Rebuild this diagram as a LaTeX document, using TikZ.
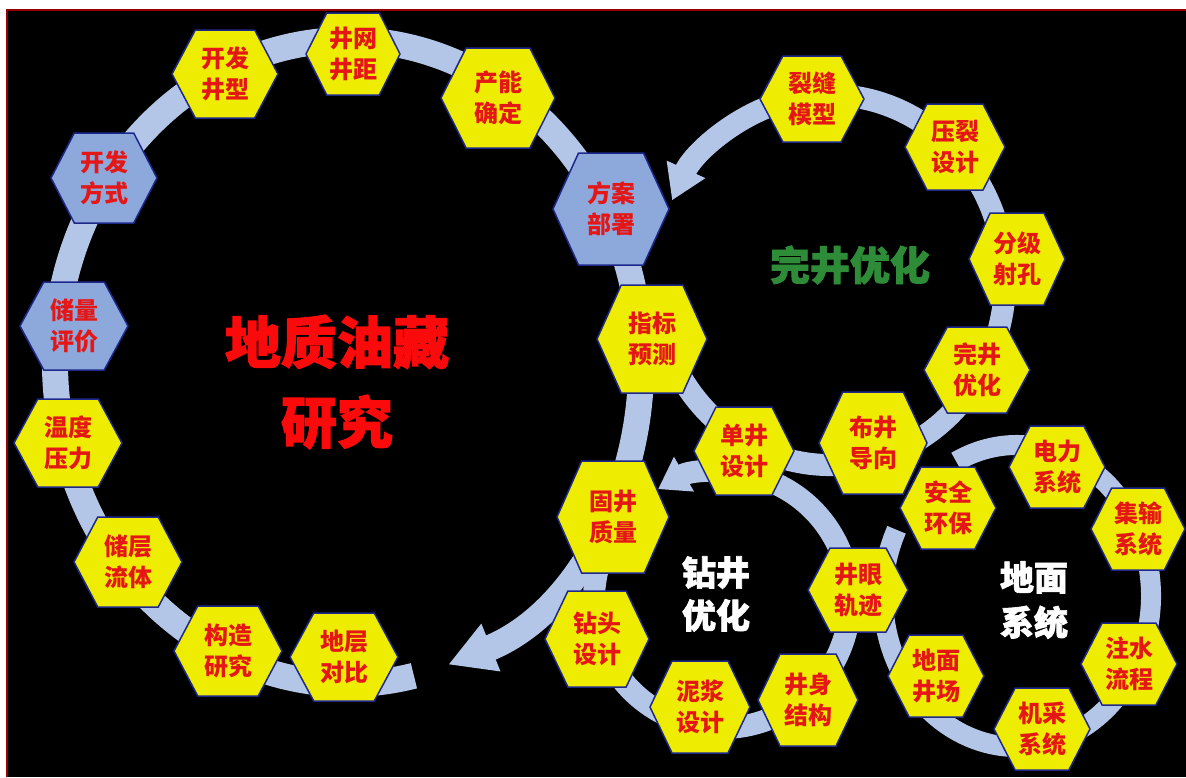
\documentclass[tikz,border=0pt]{standalone}
\usepackage{fontspec}
\newfontfamily\cjk{Noto Sans CJK SC}
\newfontfamily\cjktitle{Noto Sans CJK SC}[FakeBold=2]
\usetikzlibrary{arrows.meta}
\definecolor{ringblue}{RGB}{180,198,231}
\definecolor{hexyellow}{RGB}{238,236,0}
\definecolor{hexblue}{RGB}{141,169,219}
\definecolor{hexedge}{RGB}{30,40,140}
\definecolor{hexred}{RGB}{228,22,22}
\definecolor{titlered}{RGB}{250,10,10}
\definecolor{titlegreen}{RGB}{46,140,56}
\definecolor{framered}{RGB}{150,0,0}
\newcommand{\hexa}[7]{%
  \filldraw[hexborder,fill=#6] (#2-#4,#3) -- (#2-0.56*#4,#3-#5) -- (#2+0.56*#4,#3-#5) -- (#2+#4,#3) -- (#2+0.56*#4,#3+#5) -- (#2-0.56*#4,#3+#5) -- cycle;
  \node[hextext] (#1) at (#2,#3) {#7};}
\begin{document}
\begin{tikzpicture}[x=1pt,y=-1pt,
  ring/.style={draw=ringblue,line width=#1},
  hexborder/.style={draw=hexedge,line width=1.5pt},
  hextext/.style={text=hexred,font=\cjk\bfseries\fontsize{24}{31}\selectfont,align=center,inner sep=0pt},
  title/.style={align=center,inner sep=0pt}]
\useasboundingbox (0,0) rectangle (1186,777);
\fill[white] (0,0) rectangle (1186,777);
\fill[black] (6,9) rectangle (1186,777);
\draw[framered,line width=1.5pt] (6.75,777) -- (6.75,9.75) -- (1186,9.75);
% ring centres
\coordinate (bigc) at (348,362);
\coordinate (wjc) at (830,280);
\coordinate (zjc) at (722,600);
\coordinate (dmc) at (1017,596);
% rings
\draw[ring=26pt,-{Triangle[width=48pt,length=46pt]}] (bigc) ++(77:293 and 322)
  arc[start angle=77,end angle=430,x radius=293,y radius=322];
\draw[ring=22pt,-{Triangle[width=40pt,length=34pt]}] (wjc) ++(162:175 and 185)
  arc[start angle=162,end angle=-154.5,x radius=175,y radius=185];
\draw[ring=22pt,-{Triangle[width=38pt,length=30pt]}] (zjc) ++(200:128)
  arc[start angle=200,end angle=-120,radius=128];
\draw[ring=20pt] (dmc) ++(243:134 and 151)
  arc[start angle=243,end angle=566,x radius=134,y radius=151];
% titles
\node[title,text=titlered,font=\cjktitle\bfseries\fontsize{56}{80}\selectfont] (tdz) at (337,382) {地质油藏\\研究};
\node[title,text=titlegreen,font=\cjktitle\bfseries\fontsize{40}{48}\selectfont] (twj) at (850,265) {完井优化};
\node[title,text=white,font=\cjktitle\bfseries\fontsize{34}{43}\selectfont] (tzj) at (716,594) {钻井\\优化};
\node[title,text=white,font=\cjktitle\bfseries\fontsize{34}{45}\selectfont] (tdm) at (1034,600) {地面\\系统};
% big ring hexagons
\hexa{kfjx}{225}{74}{53}{44}{hexyellow}{开发\\井型}
\hexa{jwjj}{353}{54}{47}{41}{hexyellow}{井网\\井距}
\hexa{cnqd}{498}{98}{57}{50}{hexyellow}{产能\\确定}
\hexa{fabs}{611}{209}{58}{56}{hexblue}{方案\\部署}
\hexa{kffs}{104}{178}{53}{45}{hexblue}{开发\\方式}
\hexa{clpj}{74}{326}{54}{44}{hexblue}{储量\\评价}
\hexa{wdyl}{68}{443}{54}{44}{hexyellow}{温度\\压力}
\hexa{clt}{128}{562}{54}{45}{hexyellow}{储层\\流体}
\hexa{gzyj}{228}{651}{54}{45}{hexyellow}{构造\\研究}
\hexa{dcdb}{344}{657}{54}{44}{hexyellow}{地层\\对比}
\hexa{zbyc}{652}{339}{55}{54}{hexyellow}{指标\\预测}
\hexa{gjzl}{613}{517}{56}{56}{hexyellow}{固井\\质量}
% completion ring
\hexa{lfmx}{812}{99}{52}{43}{hexyellow}{裂缝\\模型}
\hexa{ylsj}{955}{147}{50}{43}{hexyellow}{压裂\\设计}
\hexa{fjsk}{1017}{259}{48}{46}{hexyellow}{分级\\射孔}
\hexa{wjyh}{977}{370}{53}{43}{hexyellow}{完井\\优化}
\hexa{bjdx}{873}{443}{54}{51}{hexyellow}{布井\\导向}
\hexa{djsj}{744}{451}{50}{44}{hexyellow}{单井\\设计}
% drilling ring
\hexa{ztsj}{597}{639}{52}{48}{hexyellow}{钻头\\设计}
\hexa{njsj}{700}{707}{50}{46}{hexyellow}{泥浆\\设计}
\hexa{jsjg}{808}{700}{50}{46}{hexyellow}{井身\\结构}
\hexa{jygj}{858}{590}{50}{42}{hexyellow}{井眼\\轨迹}
% surface ring
\hexa{aqhb}{948}{508}{48}{41}{hexyellow}{安全\\环保}
\hexa{dlxt}{1057}{467}{48}{41}{hexyellow}{电力\\系统}
\hexa{jsxt}{1138}{529}{47}{41}{hexyellow}{集输\\系统}
\hexa{zslc}{1129}{664}{48}{41}{hexyellow}{注水\\流程}
\hexa{jcxt}{1042}{729}{48}{41}{hexyellow}{机采\\系统}
\hexa{dmjc}{936}{676}{48}{41}{hexyellow}{地面\\井场}
\end{tikzpicture}
\end{document}
